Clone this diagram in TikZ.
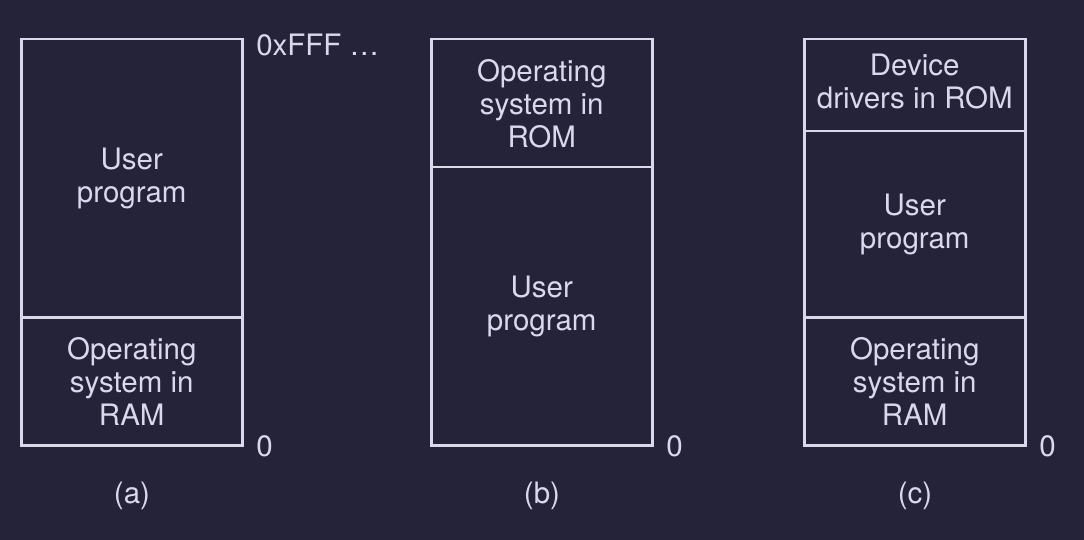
\documentclass[tikz,border=0pt]{standalone}
\usepackage{fontspec}
\setmainfont{TeX Gyre Heros}
\usepackage{xcolor}
\usetikzlibrary{positioning}
\definecolor{bgdark}{HTML}{24233A}
\definecolor{fgline}{HTML}{DCD8EC}

\begin{document}
\begin{tikzpicture}[x=1pt,y=-1pt,line width=2.5pt,
    every node/.style={text=fgline,font=\fontsize{29.5}{33}\selectfont}]
  \tikzstyle{region}=[draw=fgline,rectangle,anchor=north west,
    minimum width=221pt,align=center,inner sep=0pt]
  \tikzstyle{addr}=[anchor=west,inner sep=0pt]

  \fill[bgdark] (0,0) rectangle (1084,540);
  \useasboundingbox (0,0) rectangle (1084,540);

  % (a)
  \node[region,minimum height=278pt] (a_user) at (20,38)  {User\\program};
  \node[region,minimum height=128pt] (a_os)   at (20,316) {Operating\\system in\\RAM};
  \node[addr] (a_top) at (255,45)  {0xFFF \dots};
  \node[addr] (a_low) at (255,446) {0};
  \node (a_cap) at (132,496) {(a)};

  % (b)
  \node[region,minimum height=128pt] (b_os)   at (430,38)  {Operating\\system in\\ROM};
  \node[region,minimum height=278pt] (b_user) at (430,166) {User\\program};
  \node[addr] (b_low) at (665,446) {0};
  \node (b_cap) at (542,496) {(b)};

  % (c)
  \node[region,minimum height=92pt,text depth=9pt] (c_drv) at (803,38) {Device\\drivers in ROM};
  \node[region,minimum height=186pt] (c_user) at (803,130) {User\\program};
  \node[region,minimum height=128pt] (c_os)   at (803,316) {Operating\\system in\\RAM};
  \node[addr] (c_low) at (1038,446) {0};
  \node (c_cap) at (915,496) {(c)};
\end{tikzpicture}
\end{document}
